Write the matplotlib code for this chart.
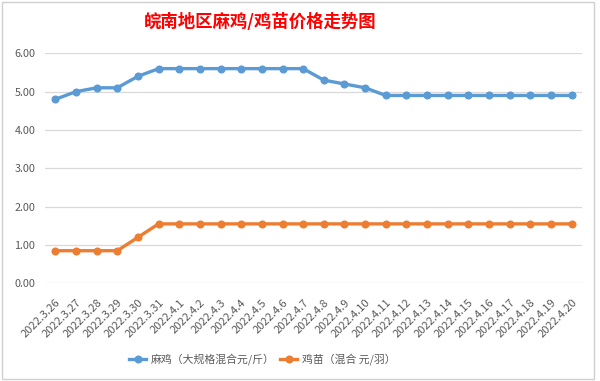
import matplotlib
matplotlib.use("Agg")
import matplotlib.pyplot as plt
from matplotlib.patches import Rectangle

plt.rcParams['font.family'] = ['Noto Sans CJK SC', 'DejaVu Sans']

dates = ['2022.3.26', '2022.3.27', '2022.3.28', '2022.3.29', '2022.3.30', '2022.3.31',
         '2022.4.1', '2022.4.2', '2022.4.3', '2022.4.4', '2022.4.5', '2022.4.6', '2022.4.7',
         '2022.4.8', '2022.4.9', '2022.4.10', '2022.4.11', '2022.4.12', '2022.4.13',
         '2022.4.14', '2022.4.15', '2022.4.16', '2022.4.17', '2022.4.18', '2022.4.19',
         '2022.4.20']
maji = [4.8, 5.0, 5.1, 5.1, 5.4, 5.6, 5.6, 5.6, 5.6, 5.6, 5.6, 5.6, 5.6,
        5.3, 5.2, 5.1, 4.9, 4.9, 4.9, 4.9, 4.9, 4.9, 4.9, 4.9, 4.9, 4.9]
jimiao = [0.85, 0.85, 0.85, 0.85, 1.2, 1.55, 1.55, 1.55, 1.55, 1.55, 1.55, 1.55, 1.55,
          1.55, 1.55, 1.55, 1.55, 1.55, 1.55, 1.55, 1.55, 1.55, 1.55, 1.55, 1.55, 1.55]
yticks = [0, 1, 2, 3, 4, 5, 6]

txt_color = '#595959'
grid_color = '#d9d9d9'

fig = plt.figure(figsize=(6, 3.81), dpi=100)
fig.patch.set_facecolor('white')

# chart border like the Excel chart area
fig.add_artist(Rectangle((2 / 600, 2 / 381), 592 / 600, 377 / 381, transform=fig.transFigure,
                         fill=False, edgecolor='#d0d0d0', lw=1))

ax = fig.add_axes([45 / 600, 1 - 283.3 / 381, 537 / 600, 230 / 381])
x = list(range(len(dates)))
ax.plot(x, maji, color='#5B9BD5', lw=2.4, marker='o', markersize=4.8,
        label='麻鸡（大规格混合元/斤）', zorder=3)
ax.plot(x, jimiao, color='#ED7D31', lw=2.4, marker='o', markersize=4.8,
        label='鸡苗（混合 元/羽）', zorder=3)

ax.set_xlim(-0.5, len(dates) - 0.5)
ax.set_ylim(0, 6)
ax.set_yticks(yticks)
ax.set_yticklabels([f'{v:.2f}' for v in yticks], color=txt_color, fontsize=7.8)
ax.set_xticks(x)
ax.set_xticklabels(dates, rotation=45, ha='right', va='top', rotation_mode='anchor',
                   color=txt_color, fontsize=8)
ax.tick_params(axis='both', length=0)
ax.tick_params(axis='y', pad=7)
ax.tick_params(axis='x', pad=10)
ax.grid(axis='y', color=grid_color, lw=0.9)
ax.set_axisbelow(True)
for s in ax.spines.values():
    s.set_visible(False)

fig.text(260 / 600, 1 - 22 / 381, '皖南地区麻鸡/鸡苗价格走势图', color='red',
         fontsize=12.5, fontweight='bold', ha='center', va='center')

fig.legend(loc='center', bbox_to_anchor=(262 / 600, 1 - 359 / 381), ncol=2, frameon=False,
           fontsize=7.8, labelcolor=txt_color, handlelength=1.6, columnspacing=0.5,
           handletextpad=0.4)

fig.savefig('out.png', dpi=100)
